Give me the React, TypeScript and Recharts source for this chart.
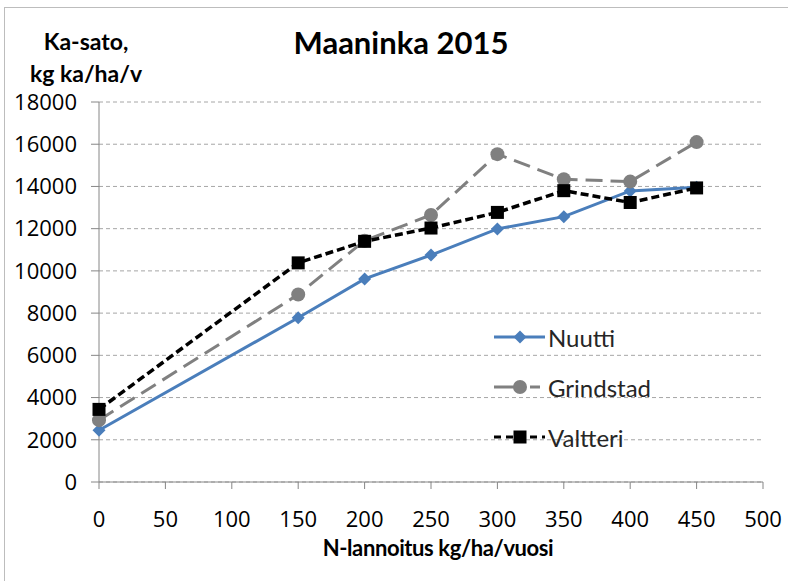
import { LineChart, Line, XAxis, YAxis, CartesianGrid } from 'recharts';

const nRates = [0, 150, 200, 250, 300, 350, 400, 450];
const nuutti = [2450, 7780, 9620, 10750, 11990, 12570, 13790, 13960];
const grindstad = [2930, 8880, 11430, 12650, 15530, 14340, 14230, 16100];
const valtteri = [3440, 10380, 11400, 12030, 12770, 13800, 13240, 13930];

const xTicks = [0, 50, 100, 150, 200, 250, 300, 350, 400, 450, 500];
const yTicks = [0, 2000, 4000, 6000, 8000, 10000, 12000, 14000, 16000, 18000];

const data = nRates.map((n, i) => ({
  n,
  nuutti: nuutti[i],
  grindstad: grindstad[i],
  valtteri: valtteri[i],
}));

const TEXT = 'Lato, "Open Sans", sans-serif';
const NUM = '"Open Sans", Lato, sans-serif';

const Diamond = ({ cx, cy, fill }: any) => (
  <path d={`M${cx},${cy - 6.5} L${cx + 6.5},${cy} L${cx},${cy + 6.5} L${cx - 6.5},${cy} Z`} fill={fill} />
);
const Circle = ({ cx, cy, fill }: any) => <circle cx={cx} cy={cy} r={7} fill={fill} />;
const Square = ({ cx, cy, fill }: any) => <rect x={cx - 6.5} y={cy - 6.5} width={13} height={13} fill={fill} />;

const series = [
  { key: 'nuutti', name: 'Nuutti', color: '#4a7ebb', dash: undefined, legendDash: undefined, width: 3, Marker: Diamond },
  { key: 'grindstad', name: 'Grindstad', color: '#808080', dash: '17 8', legendDash: '30 6 10 6', width: 3, Marker: Circle },
  { key: 'valtteri', name: 'Valtteri', color: '#000000', dash: '8 4', legendDash: '7 5', width: 3.5, Marker: Square },
];

export default function App() {
  return (
    <div style={{ position: 'absolute', left: 0, top: 0, width: 788, height: 581, overflow: 'hidden', background: '#fff' }}>
      <div style={{ position: 'absolute', left: 4, top: 7, width: 820, height: 620, border: '1px solid #bdbdbd' }} />
      <div style={{ position: 'absolute', left: 0, top: 24, width: 802, textAlign: 'center', fontFamily: TEXT, fontWeight: 700, fontSize: 31, lineHeight: 1.2, color: '#000' }}>
        Maaninka 2015
      </div>
      <div style={{ position: 'absolute', left: 21, top: 25, width: 130, textAlign: 'center', fontFamily: TEXT, fontWeight: 700, fontSize: 23, lineHeight: '32px', color: '#000' }}>
        Ka-sato,<br />kg ka/ha/v
      </div>
      <div style={{ position: 'absolute', left: 0, top: 536, width: 876, textAlign: 'center', fontFamily: TEXT, fontWeight: 700, fontSize: 22, lineHeight: '24px', letterSpacing: -0.4, color: '#000' }}>
        N-lannoitus kg/ha/vuosi
      </div>
      <LineChart width={788} height={581} data={data} margin={{ top: 102, right: 25, bottom: 69, left: 19 }}>
        <CartesianGrid vertical={false} stroke="#a6a6a6" strokeDasharray="4 3" />
        <XAxis
          dataKey="n"
          type="number"
          domain={[0, 500]}
          ticks={xTicks}
          interval={0}
          height={30}
          stroke="#868686"
          tickSize={7}
          tickMargin={22}
          tick={{ fill: '#000', fontSize: 22, fontFamily: NUM }}
        />
        <YAxis
          domain={[0, 18000]}
          ticks={yTicks}
          interval={0}
          width={80}
          stroke="#868686"
          tickSize={8}
          tickMargin={14}
          tick={{ fill: '#000', fontSize: 22, fontFamily: NUM }}
        />
        {series.map((s) => (
          <Line
            key={s.key}
            dataKey={s.key}
            name={s.name}
            stroke={s.color}
            strokeWidth={s.width}
            strokeDasharray={s.dash}
            dot={(p: any) => <s.Marker key={`${s.key}-${p.index}`} cx={p.cx} cy={p.cy} fill={s.color} />}
            activeDot={false}
            isAnimationActive={false}
          />
        ))}
      </LineChart>
      <div style={{ position: 'absolute', left: 492, top: 312, fontFamily: TEXT, fontSize: 24, color: '#262626' }}>
        {series.map((s) => (
          <div key={s.key} style={{ display: 'flex', alignItems: 'center', height: 50 }}>
            <svg width={56} height={20}>
              <line x1={2} y1={10} x2={53} y2={10} stroke={s.color} strokeWidth={3} strokeDasharray={s.legendDash} />
              <s.Marker cx={28} cy={10} fill={s.color} />
            </svg>
            <span>{s.name}</span>
          </div>
        ))}
      </div>
    </div>
  );
}
